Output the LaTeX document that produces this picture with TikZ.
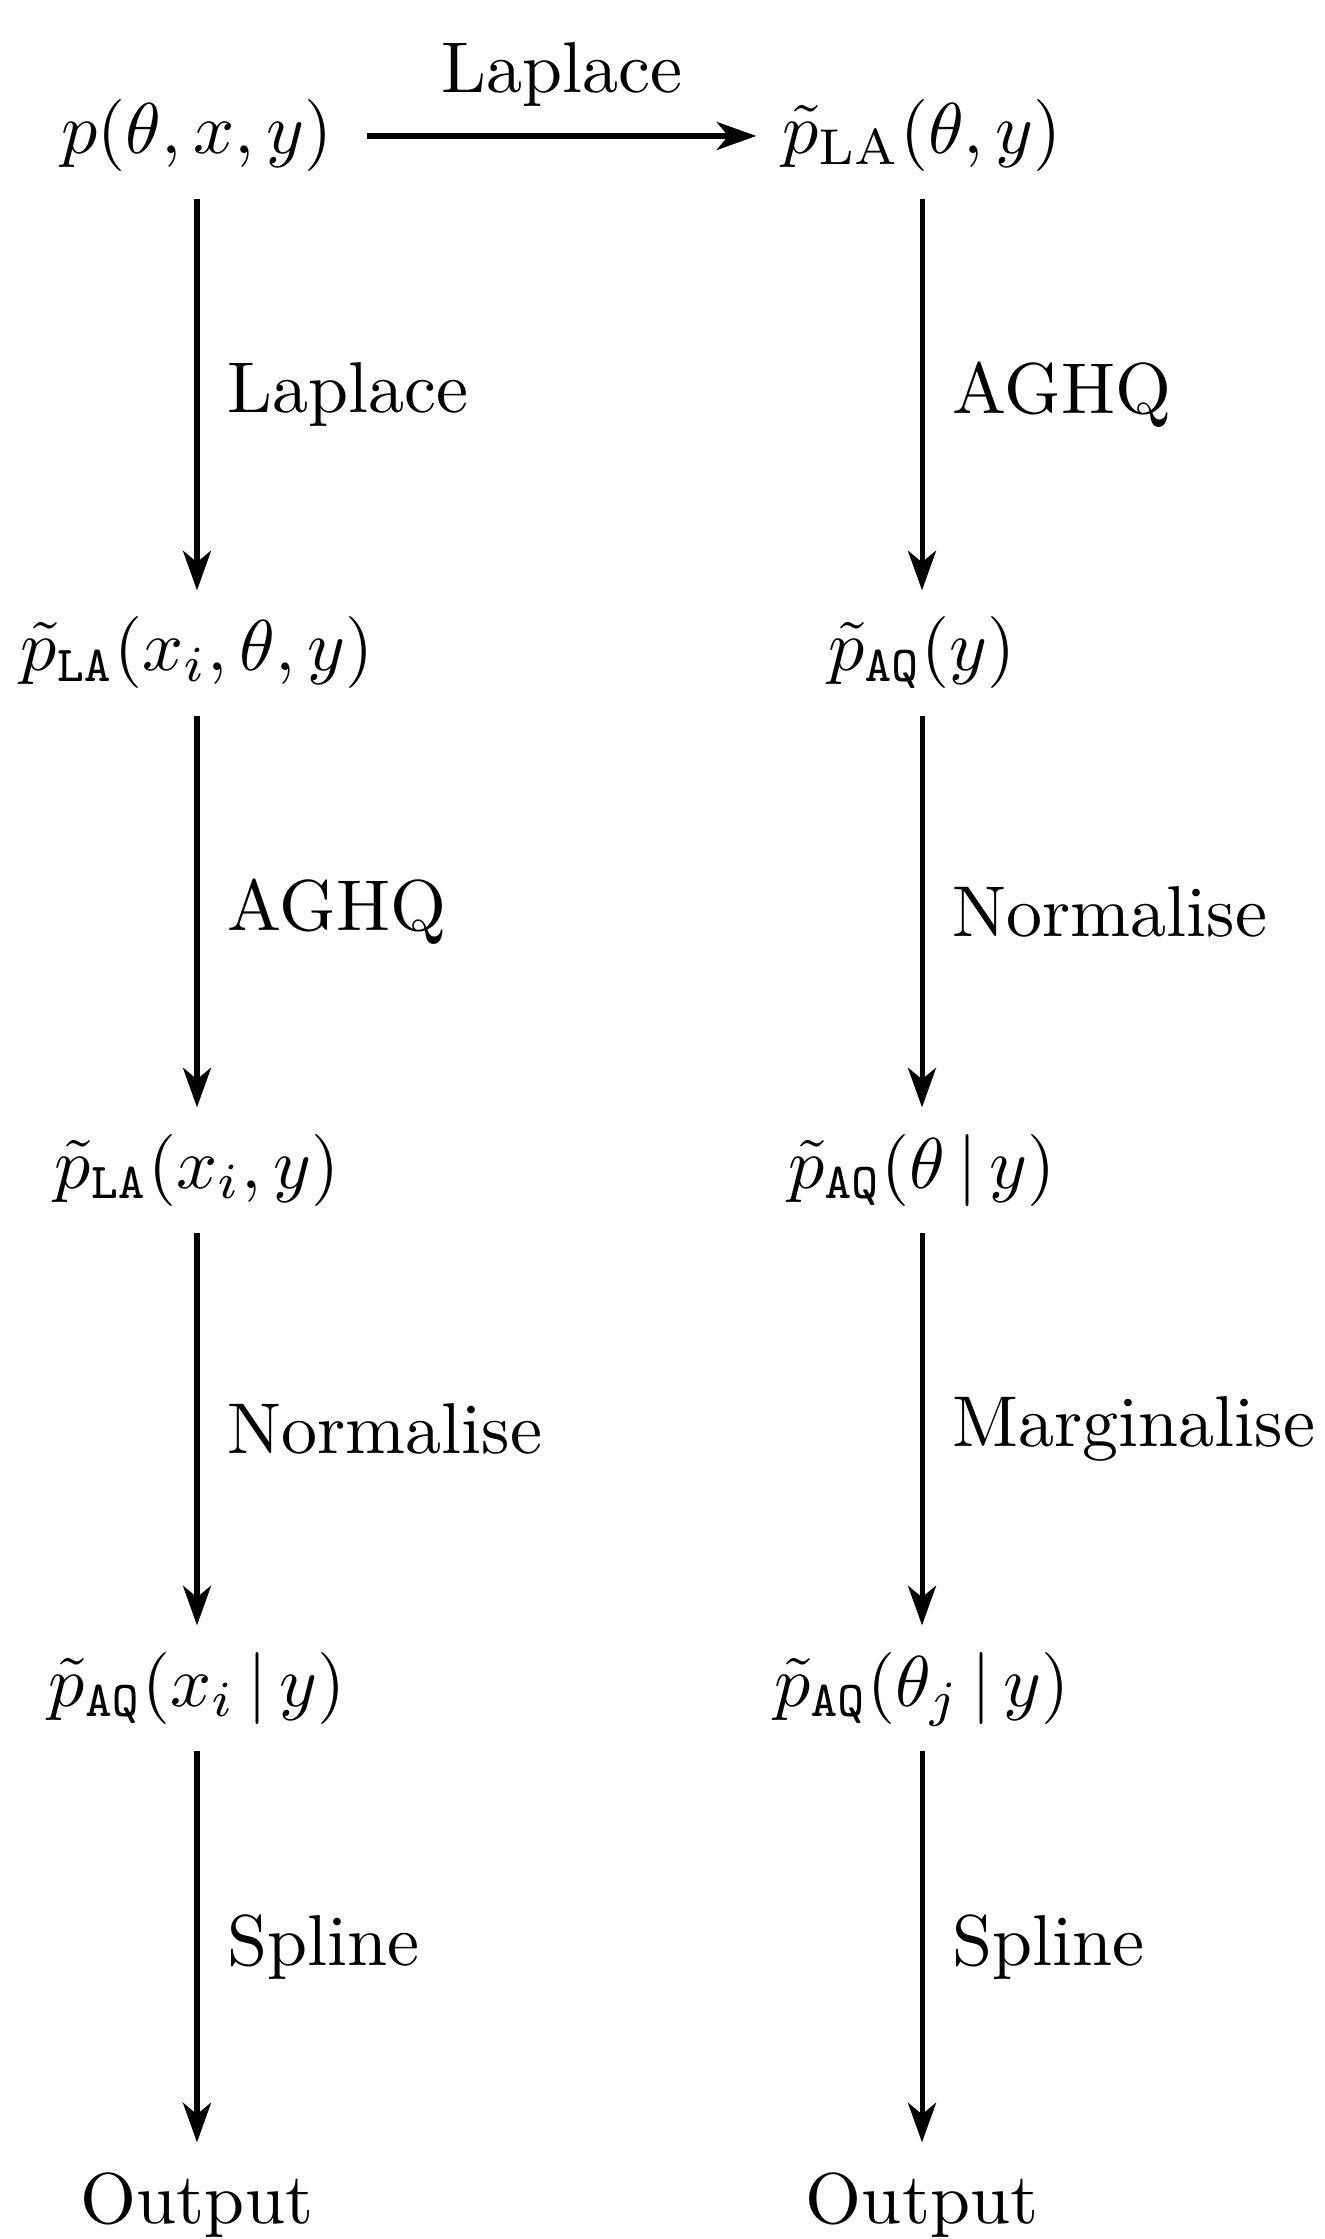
\documentclass[tikz,border=0pt]{standalone}
\usetikzlibrary{arrows.meta}
\begin{document}
\begin{tikzpicture}[x=0.13889pt,y=-0.13889pt,
  mathnode/.style={anchor=base,inner sep=0pt,text height=7.5pt,text depth=2.5pt},
  flow/.style={line width=0.7pt,-{Stealth[length=5.5pt,width=3.9pt,inset=1.6pt]}},
  sidelab/.style={anchor=west,inner sep=0pt,xshift=3.9pt},
  toplab/.style={anchor=south,inner sep=0pt,yshift=3.8pt}]
\useasboundingbox (0,0) rectangle (1324,2239);
% left column
\node[mathnode] (l1) at (197,154) {$p(\theta,x,y)$};
\node[mathnode] (l2) at (197,671) {$\tilde{p}_{\mathtt{LA}}(x_i,\theta,y)$};
\node[mathnode] (l3) at (197,1188) {$\tilde{p}_{\mathtt{LA}}(x_i,y)$};
\node[mathnode] (l4) at (197,1706) {$\tilde{p}_{\mathtt{AQ}}(x_i\,|\,y)$};
\node[mathnode] (l5) at (197,2223) {Output};
% right column
\node[mathnode] (r1) at (922,154) {$\tilde{p}_{\mathrm{LA}}(\theta,y)$};
\node[mathnode] (r2) at (922,671) {$\tilde{p}_{\mathtt{AQ}}(y)$};
\node[mathnode] (r3) at (922,1188) {$\tilde{p}_{\mathtt{AQ}}(\theta\,|\,y)$};
\node[mathnode] (r4) at (922,1706) {$\tilde{p}_{\mathtt{AQ}}(\theta_j\,|\,y)$};
\node[mathnode] (r5) at (922,2223) {Output};
% horizontal
\draw[flow] ([xshift=4.6pt]l1.east) -- node[toplab] {Laplace} ([xshift=-3.4pt]r1.west);
% left verticals
\draw[flow] ([yshift=-3.6pt]l1.south) -- node[sidelab] {Laplace} ([yshift=3.5pt]l2.north);
\draw[flow] ([yshift=-3.6pt]l2.south) -- node[sidelab] {AGHQ} ([yshift=3.5pt]l3.north);
\draw[flow] ([yshift=-3.6pt]l3.south) -- node[sidelab] {Normalise} ([yshift=3.5pt]l4.north);
\draw[flow] ([yshift=-3.6pt]l4.south) -- node[sidelab] {Spline} ([yshift=3.5pt]l5.north);
% right verticals
\draw[flow] ([yshift=-3.6pt]r1.south) -- node[sidelab] {AGHQ} ([yshift=3.5pt]r2.north);
\draw[flow] ([yshift=-3.6pt]r2.south) -- node[sidelab] {Normalise} ([yshift=3.5pt]r3.north);
\draw[flow] ([yshift=-3.6pt]r3.south) -- node[sidelab] {Marginalise} ([yshift=3.5pt]r4.north);
\draw[flow] ([yshift=-3.6pt]r4.south) -- node[sidelab] {Spline} ([yshift=3.5pt]r5.north);
\end{tikzpicture}
\end{document}
